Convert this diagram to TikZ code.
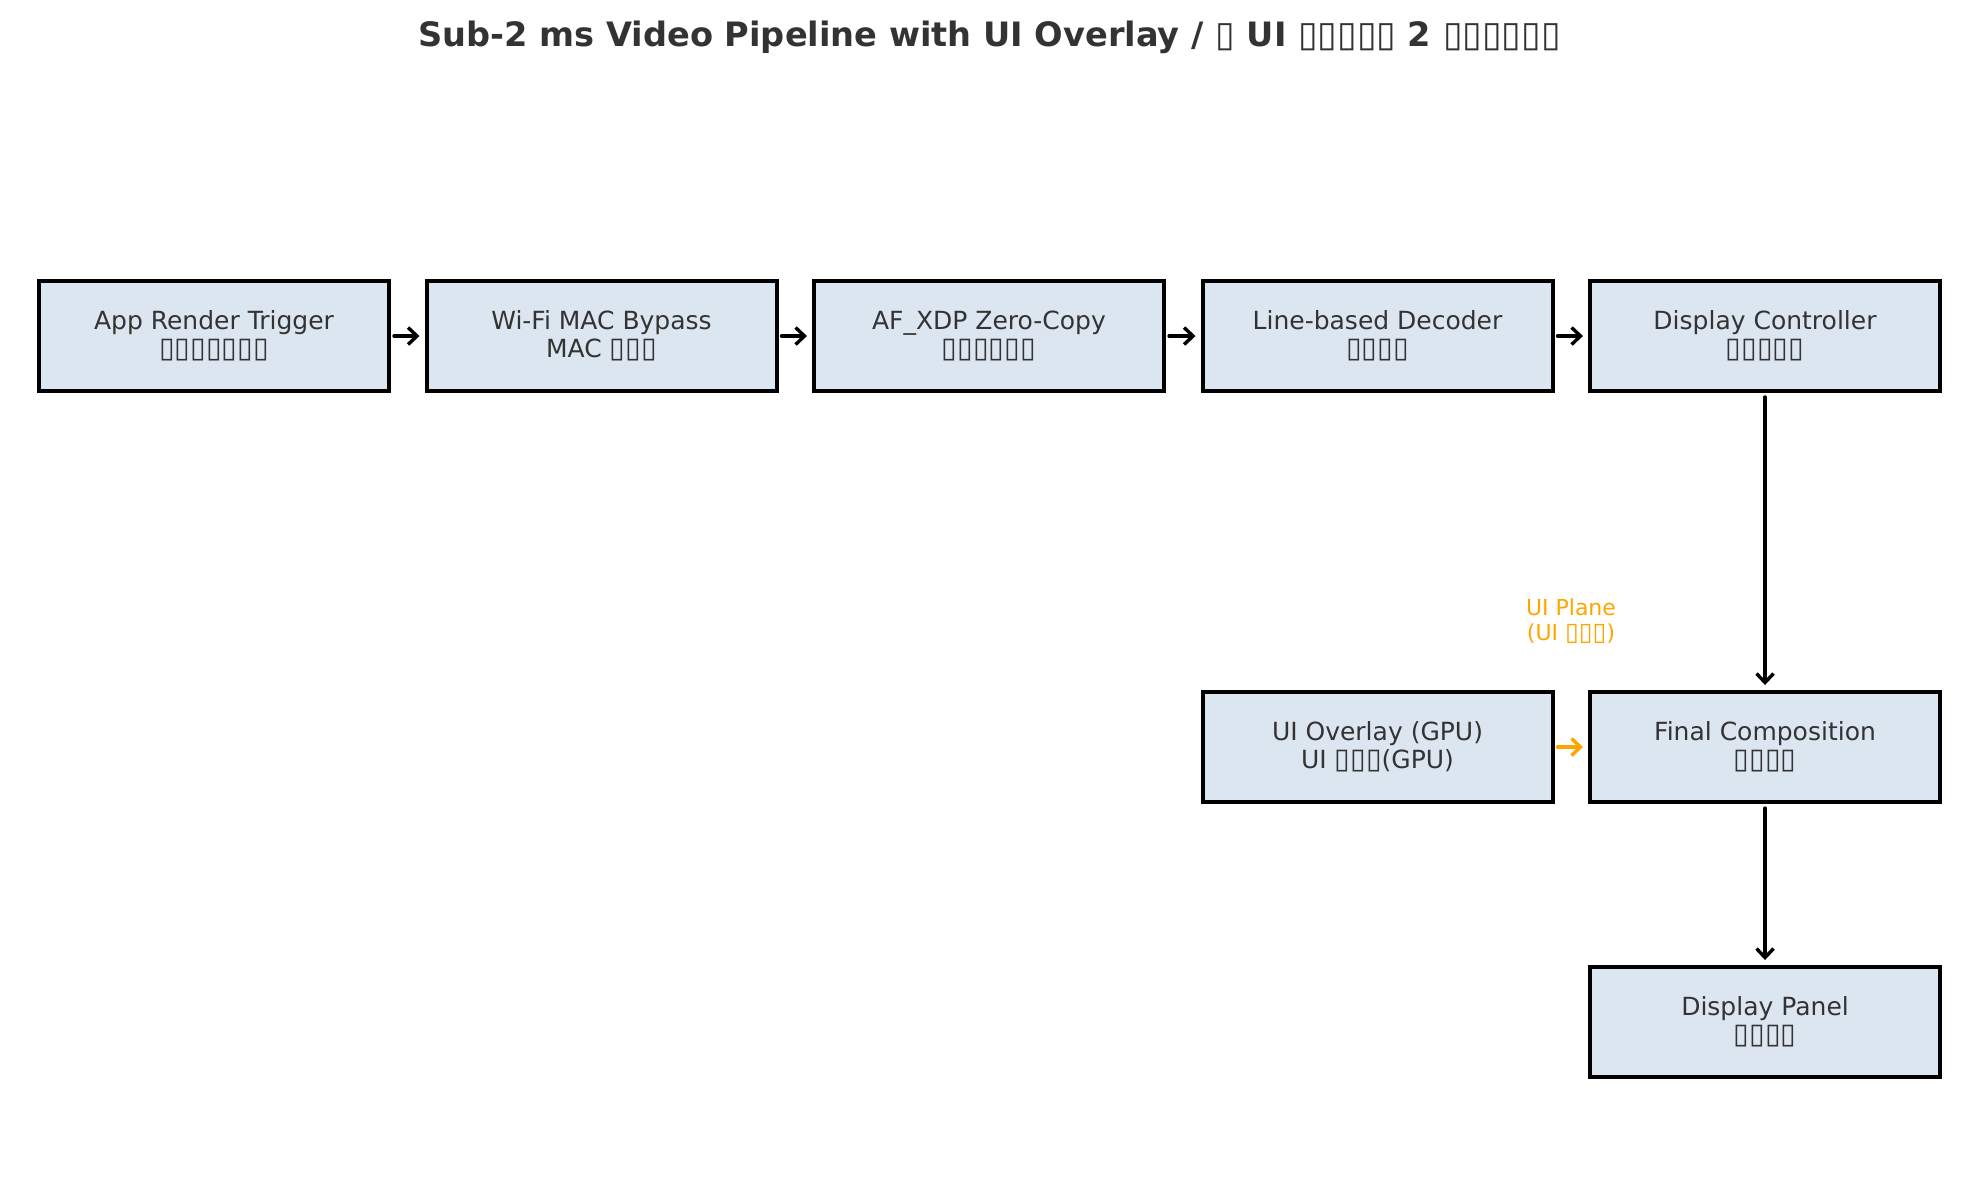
\documentclass[tikz,border=0pt]{standalone}
\usepackage{fontspec}
\setmainfont{DejaVu Sans}
\usetikzlibrary{arrows.meta}
\definecolor{boxfill}{HTML}{DCE6F0}
\definecolor{txt}{HTML}{333333}
\definecolor{uiorange}{HTML}{FFA500}
\newcommand\tofus[1]{{\fontsize{1.14em}{0pt}\selectfont #1}}
\newcommand\tofut[1]{{\fontsize{1.06em}{0pt}\selectfont #1}}
\tikzset{
  stagebox/.style={draw=black, line width=2pt, fill=boxfill, text=txt,
    minimum width=175pt, minimum height=55pt, inner sep=0pt, align=center,
    font=\fontsize{12.5}{13.9}\selectfont},
  flow/.style={draw=black, line width=1.7pt, line cap=round, -{Straight Barb[length=4.5pt,width=8.5pt,line width=1.7pt]}},
  uiflow/.style={draw=uiorange, line width=1.7pt, line cap=round, -{Straight Barb[length=4.5pt,width=8.5pt,line width=1.7pt]}},
}
\begin{document}
\begin{tikzpicture}[x=0.5pt,y=-0.5pt]
\useasboundingbox (0,0) rectangle (1979,1180);
\node[font=\fontsize{16.8}{20}\selectfont\bfseries, text=txt] (title) at (989.5,37)
  {Sub-2 ms Video Pipeline with UI Overlay / \tofut{▯} UI \tofut{▯▯▯▯▯} 2 \tofut{▯▯▯▯▯▯}};
\node[stagebox] (app) at (214,336) {App Render Trigger\\\tofus{▯▯▯▯▯▯▯}};
\node[stagebox] (mac) at (601.5,336) {Wi-Fi MAC Bypass\\MAC \tofus{▯▯▯}};
\node[stagebox] (xdp) at (989,336) {AF\_XDP Zero-Copy\\\tofus{▯▯▯▯▯▯}};
\node[stagebox] (dec) at (1377.5,336) {Line-based Decoder\\\tofus{▯▯▯▯}};
\node[stagebox] (dc) at (1765,336) {Display Controller\\\tofus{▯▯▯▯▯}};
\node[stagebox] (ui) at (1377.5,747) {UI Overlay (GPU)\\UI \tofus{▯▯▯}(GPU)};
\node[stagebox] (fc) at (1765,747) {Final Composition\\\tofus{▯▯▯▯}};
\node[stagebox] (dp) at (1765,1022) {Display Panel\\\tofus{▯▯▯▯}};
\node[text=uiorange, align=center, font=\fontsize{11}{12.5}\selectfont] (uilabel) at (1571,621) {UI Plane\\(UI \tofus{▯▯▯})};
\draw[flow, shorten <=1.5pt, shorten >=2.5pt] (app) -- (mac);
\draw[flow, shorten <=1.5pt, shorten >=2.5pt] (mac) -- (xdp);
\draw[flow, shorten <=1.5pt, shorten >=2.5pt] (xdp) -- (dec);
\draw[flow, shorten <=1.5pt, shorten >=2.5pt] (dec) -- (dc);
\draw[flow, shorten <=2pt, shorten >=2.5pt] (dc) -- (fc);
\draw[flow, shorten <=2pt, shorten >=2.5pt] (fc) -- (dp);
\draw[uiflow, shorten <=1.5pt, shorten >=2.5pt] (ui) -- (fc);
\end{tikzpicture}
\end{document}
